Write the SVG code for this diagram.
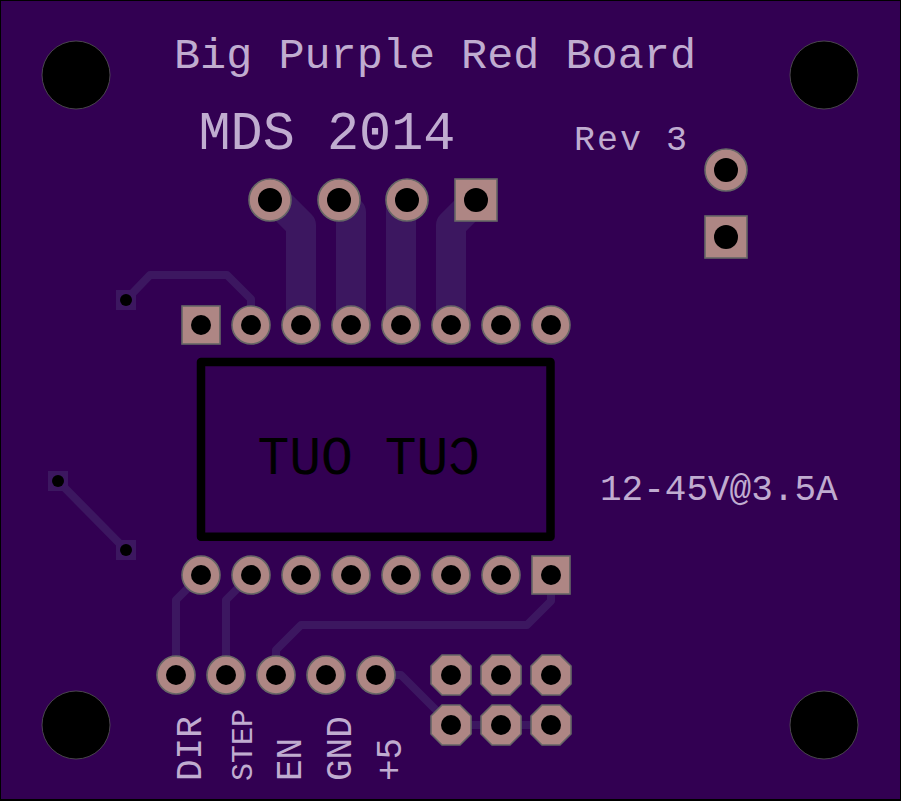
<svg xmlns="http://www.w3.org/2000/svg" width="901" height="801" viewBox="0 0 901 801">
<style>
.silk{font-family:"Liberation Mono",monospace;fill:#c0acd0}
.pad{fill:#ae8684;stroke:#666;stroke-width:1.600}
.hole{fill:#000}
.wide{fill:none;stroke:#3c1760;stroke-width:30;stroke-linejoin:round}
.thin{fill:none;stroke:#3c1760;stroke-width:8;stroke-linejoin:round}
.via{fill:#3c1760}
.mount{fill:#000;stroke:#555;stroke-width:.8}
</style>
<rect id="board" x="0" y="0" width="901" height="801" fill="#000"/>
<rect x="1" y="1" width="899" height="798" fill="#320052"/>
<g id="connectors">
<path class="wide" d="M301 325V225L276 200H270"/>
<path class="wide" d="M351 325V212L339 200"/>
<path class="wide" d="M401 325V206L407 200"/>
<path class="wide" d="M451 325V225L476 200"/>
<path class="thin" d="M126 300L150 275H227L251 299V325"/>
<path class="thin" d="M58 481L126 550"/>
<path class="thin" d="M201 575L176 600V675"/>
<path class="thin" d="M251 575L226 600V675"/>
<path class="thin" d="M551 575V601L527 625H301L276 650V675"/>
<path class="thin" d="M376 675H401L451 725H551"/>
</g>
<g id="mount-holes">
<circle class="mount" cx="76" cy="75" r="34"/>
<circle class="mount" cx="824" cy="75" r="34"/>
<circle class="mount" cx="76" cy="725" r="34"/>
<circle class="mount" cx="824" cy="725" r="34"/>
</g>
<g id="vias">
<rect class="via" x="116" y="290" width="20" height="20"/><circle class="hole" cx="126" cy="300" r="6"/>
<rect class="via" x="48" y="471" width="20" height="20"/><circle class="hole" cx="58" cy="481" r="6"/>
<rect class="via" x="116" y="540" width="20" height="20"/><circle class="hole" cx="126" cy="550" r="6"/>
</g>
<g id="header-top">
<circle class="pad" cx="270" cy="200" r="21"/><circle class="hole" cx="270" cy="200" r="12"/>
<circle class="pad" cx="339" cy="200" r="21"/><circle class="hole" cx="339" cy="200" r="12"/>
<circle class="pad" cx="407" cy="200" r="21"/><circle class="hole" cx="407" cy="200" r="12"/>
<rect class="pad" x="455" y="179" width="42" height="42"/><circle class="hole" cx="476" cy="200" r="12"/>
</g>
<g id="header-power">
<circle class="pad" cx="726" cy="170" r="21"/><circle class="hole" cx="726" cy="170" r="12"/>
<rect class="pad" x="705" y="216" width="42" height="42"/><circle class="hole" cx="726" cy="237" r="12"/>
</g>
<g id="driver-top">
<rect class="pad" x="182" y="306" width="38" height="38"/><circle class="hole" cx="201" cy="325" r="10"/>
<circle class="pad" cx="251" cy="325" r="19"/><circle class="hole" cx="251" cy="325" r="10"/>
<circle class="pad" cx="301" cy="325" r="19"/><circle class="hole" cx="301" cy="325" r="10"/>
<circle class="pad" cx="351" cy="325" r="19"/><circle class="hole" cx="351" cy="325" r="10"/>
<circle class="pad" cx="401" cy="325" r="19"/><circle class="hole" cx="401" cy="325" r="10"/>
<circle class="pad" cx="451" cy="325" r="19"/><circle class="hole" cx="451" cy="325" r="10"/>
<circle class="pad" cx="501" cy="325" r="19"/><circle class="hole" cx="501" cy="325" r="10"/>
<circle class="pad" cx="551" cy="325" r="19"/><circle class="hole" cx="551" cy="325" r="10"/>
</g>
<g id="driver-bottom">
<circle class="pad" cx="201" cy="575" r="19"/><circle class="hole" cx="201" cy="575" r="10"/>
<circle class="pad" cx="251" cy="575" r="19"/><circle class="hole" cx="251" cy="575" r="10"/>
<circle class="pad" cx="301" cy="575" r="19"/><circle class="hole" cx="301" cy="575" r="10"/>
<circle class="pad" cx="351" cy="575" r="19"/><circle class="hole" cx="351" cy="575" r="10"/>
<circle class="pad" cx="401" cy="575" r="19"/><circle class="hole" cx="401" cy="575" r="10"/>
<circle class="pad" cx="451" cy="575" r="19"/><circle class="hole" cx="451" cy="575" r="10"/>
<circle class="pad" cx="501" cy="575" r="19"/><circle class="hole" cx="501" cy="575" r="10"/>
<rect class="pad" x="532" y="556" width="38" height="38"/><circle class="hole" cx="551" cy="575" r="10"/>
</g>
<g id="signal-header">
<circle class="pad" cx="176" cy="675" r="19"/><circle class="hole" cx="176" cy="675" r="10"/>
<circle class="pad" cx="226" cy="675" r="19"/><circle class="hole" cx="226" cy="675" r="10"/>
<circle class="pad" cx="276" cy="675" r="19"/><circle class="hole" cx="276" cy="675" r="10"/>
<circle class="pad" cx="326" cy="675" r="19"/><circle class="hole" cx="326" cy="675" r="10"/>
<circle class="pad" cx="376" cy="675" r="19"/><circle class="hole" cx="376" cy="675" r="10"/>
</g>
<g id="octagon-pads">
<defs><polygon id="oct" points="-9,-20 9,-20 20,-9 20,9 9,20 -9,20 -20,9 -20,-9"/></defs>
<use href="#oct" class="pad" x="451" y="675"/><circle class="hole" cx="451" cy="675" r="10"/>
<use href="#oct" class="pad" x="501" y="675"/><circle class="hole" cx="501" cy="675" r="10"/>
<use href="#oct" class="pad" x="551" y="675"/><circle class="hole" cx="551" cy="675" r="10"/>
<use href="#oct" class="pad" x="451" y="725"/><circle class="hole" cx="451" cy="725" r="10"/>
<use href="#oct" class="pad" x="501" y="725"/><circle class="hole" cx="501" cy="725" r="10"/>
<use href="#oct" class="pad" x="551" y="725"/><circle class="hole" cx="551" cy="725" r="10"/>
</g>
<g id="cutout">
<rect x="201" y="362" width="349.500" height="174.700" fill="none" stroke="#000" stroke-width="8.500" stroke-linejoin="round"/>
<text transform="translate(480 474) scale(-1 1)" x="0" y="0" font-family="Liberation Mono,monospace" font-size="53" fill="#000">CUT OUT</text>
</g>
<g id="silkscreen">
<text class="silk" x="174" y="68" font-size="42.500" textLength="522" lengthAdjust="spacingAndGlyphs">Big Purple Red Board</text>
<text class="silk" x="198.500" y="149" font-size="53.500">MDS 2014</text>
<text class="silk" x="574" y="150" font-size="35" letter-spacing="2">Rev 3</text>
<text class="silk" x="600" y="500" font-size="36">12-45V@3.5A</text>
<text class="silk" transform="translate(201 781) rotate(-90)" font-size="36">DIR</text>
<text class="silk" transform="translate(252 781) rotate(-90)" font-size="30">STEP</text>
<text class="silk" transform="translate(301 781) rotate(-90)" font-size="36">EN</text>
<text class="silk" transform="translate(351 781) rotate(-90)" font-size="36">GND</text>
<text class="silk" transform="translate(401 781) rotate(-90)" font-size="36">+5</text>
</g>
</svg>
